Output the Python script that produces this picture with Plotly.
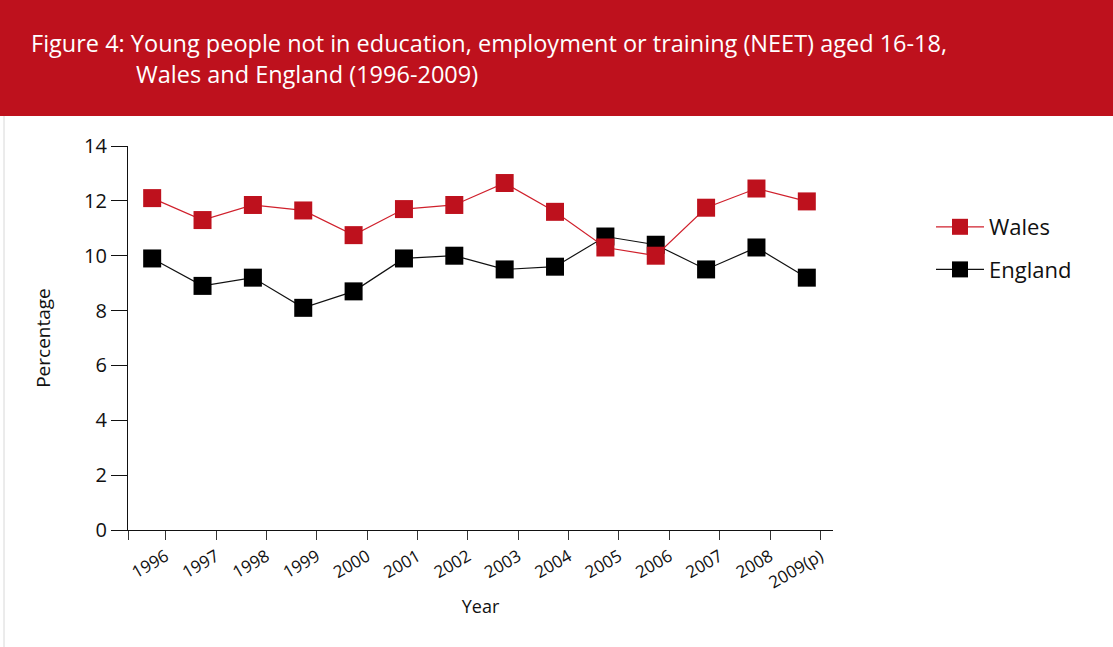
import plotly.graph_objects as go

years = ["1996", "1997", "1998", "1999", "2000", "2001", "2002",
         "2003", "2004", "2005", "2006", "2007", "2008", "2009(p)"]
wales = [12.1, 11.3, 11.85, 11.65, 10.75, 11.7, 11.85,
         12.65, 11.6, 10.3, 10.0, 11.75, 12.45, 11.98]
england = [9.9, 8.9, 9.2, 8.1, 8.7, 9.9, 10.0,
           9.5, 9.6, 10.7, 10.4, 9.5, 10.3, 9.2]

RED = "#BE111D"
FONT = "Open Sans"
xpos = list(range(len(years)))

fig = go.Figure()
fig.add_trace(go.Scatter(
    x=xpos, y=england, name="England", mode="lines+markers",
    legendgroup="eng", legendrank=2,
    line=dict(color="#111111", width=1.2),
    marker=dict(symbol="square", size=18, color="#000000"),
))
fig.add_trace(go.Scatter(
    x=xpos, y=wales, name="Wales", mode="lines+markers",
    legendgroup="wal", legendrank=1,
    line=dict(color="#D0202C", width=1.2),
    marker=dict(symbol="square", size=18, color=RED),
))

W, H = 1113, 647
L, R, T, B = 128, 280, 146, 117
pw, ph = W - L - R, H - T - B

def px(x):
    return (x - L) / pw

def py(y):
    return (H - B - y) / ph

# header band
fig.add_shape(type="rect", xref="paper", yref="paper",
              x0=px(0), x1=px(W), y0=py(116), y1=py(0),
              fillcolor=RED, line=dict(width=0), layer="below")
# thin frame line on the left edge
fig.add_shape(type="line", xref="paper", yref="paper",
              x0=px(4), x1=px(4), y0=py(116), y1=py(H),
              line=dict(color="#D8D8D8", width=1))

fig.add_annotation(xref="paper", yref="paper", x=px(29), y=py(43),
                   xanchor="left", yanchor="middle", showarrow=False,
                   text="Figure 4: Young people not in education, employment or training (NEET) aged 16-18,",
                   font=dict(family=FONT, size=23.5, color="white"))
fig.add_annotation(xref="paper", yref="paper", x=px(134), y=py(74),
                   xanchor="left", yanchor="middle", showarrow=False,
                   text="Wales and England (1996-2009)",
                   font=dict(family=FONT, size=23.5, color="white"))

fig.update_layout(
    width=W, height=H,
    margin=dict(l=L, r=R, t=T, b=B),
    paper_bgcolor="white", plot_bgcolor="white",
    font=dict(family=FONT, color="#111111"),
    legend=dict(x=px(931), y=py(206), xanchor="left", yanchor="top",
                traceorder="grouped", font=dict(size=22, color="#111111"),
                itemwidth=48, tracegroupgap=11, bgcolor="rgba(0,0,0,0)"),
)

fig.update_xaxes(
    range=[-0.48, 13.52],
    tickmode="array",
    tickvals=[-0.48] + [i + 0.27 for i in xpos],
    ticktext=[""] + years,
    tickangle=-30,
    ticks="outside", ticklen=9, tickcolor="#333333", tickwidth=1.2,
    showline=True, linecolor="#111111", linewidth=1.3,
    showgrid=False, zeroline=False,
    tickfont=dict(size=17, color="#111111"),
    title=dict(text="Year", font=dict(size=18, color="#111111"), standoff=8),
)
fig.update_yaxes(
    range=[0, 14], tickvals=[0, 2, 4, 6, 8, 10, 12, 14],
    ticks="outside", ticklen=16, tickcolor="#111111", tickwidth=1.2,
    showline=True, linecolor="#111111", linewidth=1.3,
    showgrid=False, zeroline=False,
    tickfont=dict(size=20, color="#111111"),
    title=dict(text="Percentage", font=dict(size=19, color="#111111"), standoff=28),
)

fig.write_html("out.html")
